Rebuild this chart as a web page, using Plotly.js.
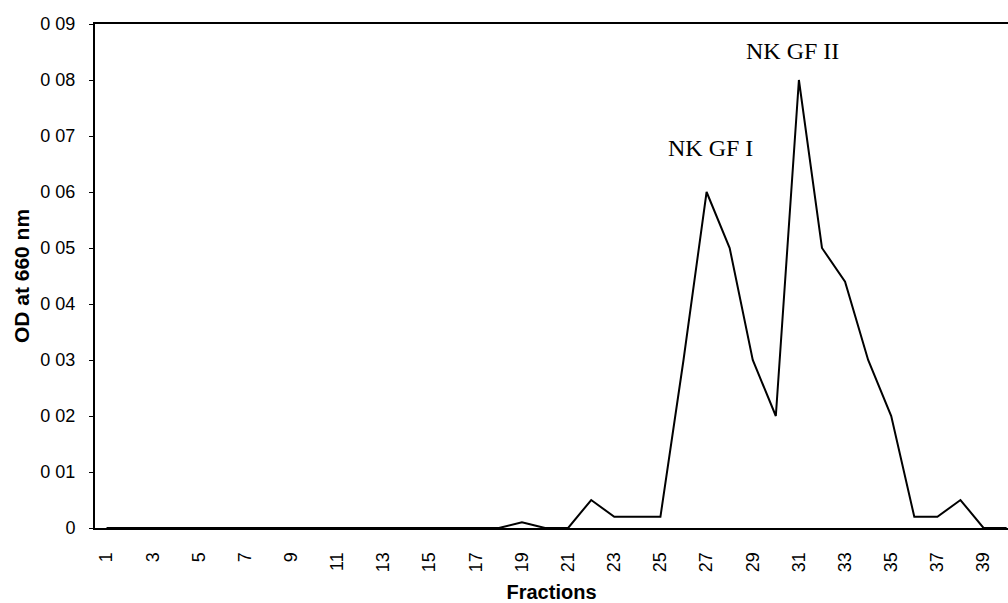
<!DOCTYPE html>
<html>
<head>
<meta charset="utf-8">
<script src="https://cdn.plot.ly/plotly-3.0.1.min.js"></script>
<style>
  html, body { margin: 0; padding: 0; background: #fff; }
  #chart { width: 1008px; height: 603px; }
</style>
</head>
<body>
<div id="chart"></div>
<script>
// Fraction numbers collected from the column
const fractions = [1, 2, 3, 4, 5, 6, 7, 8, 9, 10, 11, 12, 13, 14, 15, 16, 17, 18, 19, 20,
                   21, 22, 23, 24, 25, 26, 27, 28, 29, 30, 31, 32, 33, 34, 35, 36, 37, 38, 39, 40];

// Optical density measured at 660 nm for each fraction
const od660 = [0, 0, 0, 0, 0, 0, 0, 0, 0, 0, 0, 0, 0, 0, 0, 0, 0, 0, 0.001, 0,
               0, 0.005, 0.002, 0.002, 0.002, 0.03, 0.06, 0.05, 0.03, 0.02,
               0.08, 0.05, 0.044, 0.03, 0.02, 0.002, 0.002, 0.005, 0, 0];

// Axis tick positions and their printed labels
const xTickVals = [1, 3, 5, 7, 9, 11, 13, 15, 17, 19, 21, 23, 25, 27, 29, 31, 33, 35, 37, 39];
const xTickText = xTickVals.map(String);
const yTickVals = [0, 0.01, 0.02, 0.03, 0.04, 0.05, 0.06, 0.07, 0.08, 0.09];
const yTickText = ['0', '0 01', '0 02', '0 03', '0 04', '0 05', '0 06', '0 07', '0 08', '0 09'];

// Peak labels
const peakNames = ['NK GF I', 'NK GF II'];
const peakLabelX = [27.17, 30.74];
const peakLabelY = [0.0678, 0.0851];

const sans = 'Liberation Sans, Arial, sans-serif';
const serif = 'Liberation Serif, Times New Roman, serif';

const trace = {
  x: fractions,
  y: od660,
  type: 'scatter',
  mode: 'lines',
  line: { color: '#000', width: 2 },
  hoverinfo: 'x+y'
};

const layout = {
  width: 1008,
  height: 603,
  margin: { l: 95, r: 0, t: 24, b: 75 },
  paper_bgcolor: '#fff',
  plot_bgcolor: '#fff',
  showlegend: false,
  xaxis: {
    range: [0.5, 40.06],
    tickmode: 'array',
    tickvals: xTickVals,
    ticktext: xTickText,
    tickangle: -90,
    ticks: '',
    ticklabelstandoff: 15,
    tickfont: { family: sans, size: 18, color: '#000' },
    showgrid: false,
    zeroline: false,
    showline: true,
    linecolor: '#000',
    linewidth: 2,
    mirror: true,
    automargin: false,
    title: {
      text: 'Fractions',
      font: { family: sans, size: 20, color: '#000', weight: 'bold' },
      standoff: 14
    }
  },
  yaxis: {
    range: [0, 0.09],
    tickmode: 'array',
    tickvals: yTickVals,
    ticktext: yTickText,
    ticks: 'outside',
    ticklen: 4,
    tickwidth: 1,
    tickcolor: '#000',
    ticklabelstandoff: 10,
    tickfont: { family: sans, size: 18, color: '#000' },
    showgrid: false,
    zeroline: false,
    showline: true,
    linecolor: '#000',
    linewidth: 2,
    automargin: false,
    title: {
      text: 'OD at 660 nm',
      font: { family: sans, size: 21, color: '#000', weight: 'bold' },
      standoff: 5
    }
  },
  annotations: peakNames.map((name, i) => ({
    x: peakLabelX[i],
    y: peakLabelY[i],
    xref: 'x',
    yref: 'y',
    text: name,
    showarrow: false,
    xanchor: 'center',
    yanchor: 'middle',
    font: { family: serif, size: 24, color: '#000' }
  }))
};

Plotly.newPlot('chart', [trace], layout, { displayModeBar: false, staticPlot: true });
</script>
</body>
</html>
